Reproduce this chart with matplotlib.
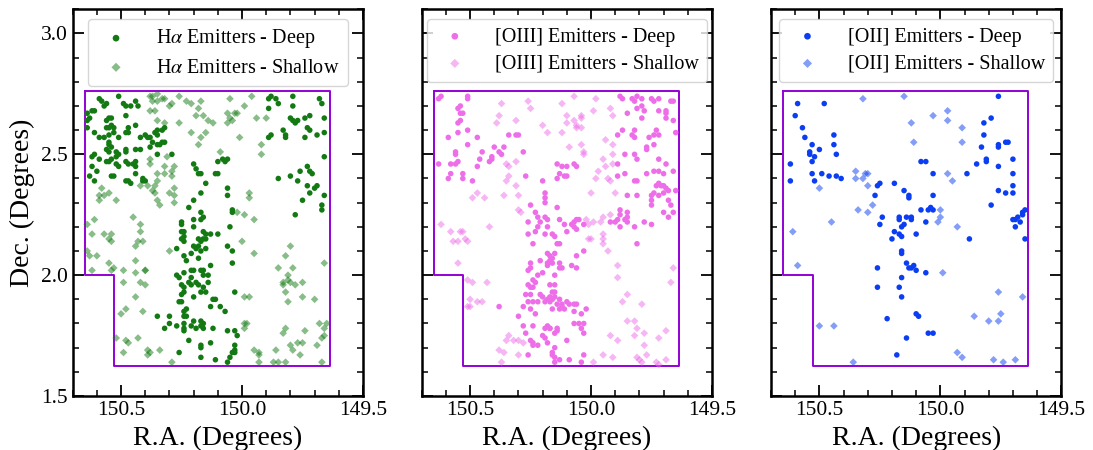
#!/usr/bin/env python3
"""
plot.py - sky positions of emitter samples (deep / shallow) in three panels
"""

import numpy as np
import matplotlib.pyplot as plt
from matplotlib.ticker import MultipleLocator

plt.rcParams["font.family"] = ["Liberation Serif", "DejaVu Serif"]
plt.rcParams["mathtext.fontset"] = "stix"

# survey footprint outline (RA, Dec)
region_ra = [150.65, 149.637, 149.637, 150.528, 150.528, 150.65, 150.65]
region_dec = [2.76, 2.76, 1.623, 1.623, 2.0, 2.0, 2.76]

# ---- H-alpha ----
ha_deep = [
    (150.59, 2.73), (150.58, 2.72), (150.56, 2.71), (150.57, 2.70), (150.51, 2.74),
    (150.49, 2.71), (150.48, 2.70), (150.46, 2.70), (150.44, 2.72), (150.43, 2.70),
    (150.64, 2.67), (150.63, 2.65), (150.64, 2.64), (150.62, 2.68), (150.61, 2.68),
    (150.55, 2.65), (150.54, 2.65), (150.56, 2.64), (150.56, 2.61), (150.55, 2.61),
    (150.54, 2.62), (150.53, 2.61), (150.53, 2.59), (150.64, 2.61), (150.61, 2.59),
    (150.59, 2.57), (150.57, 2.57), (150.55, 2.58), (150.51, 2.57), (150.48, 2.59),
    (150.47, 2.59), (150.47, 2.61), (150.48, 2.66), (150.44, 2.62), (150.42, 2.57),
    (150.40, 2.58), (150.39, 2.57), (150.38, 2.57), (150.36, 2.59), (150.35, 2.60),
    (150.33, 2.60), (150.32, 2.61), (150.35, 2.58), (150.55, 2.55), (150.55, 2.54),
    (150.56, 2.52), (150.55, 2.51), (150.54, 2.53), (150.52, 2.51), (150.51, 2.50),
    (150.48, 2.52), (150.48, 2.51), (150.44, 2.52), (150.42, 2.52), (150.38, 2.53),
    (150.37, 2.55), (150.35, 2.54), (150.34, 2.54), (150.32, 2.55), (150.33, 2.55),
    (150.35, 2.50), (150.29, 2.50), (150.62, 2.49), (150.61, 2.50), (150.59, 2.48),
    (150.56, 2.47), (150.55, 2.47), (150.54, 2.48), (150.52, 2.49), (150.52, 2.46),
    (150.51, 2.45), (150.48, 2.47), (150.47, 2.46), (150.45, 2.46), (150.44, 2.47),
    (150.44, 2.45), (150.62, 2.45), (150.60, 2.43), (150.63, 2.41), (150.61, 2.39),
    (150.54, 2.41), (150.53, 2.41), (150.48, 2.39), (150.47, 2.39), (150.46, 2.38),
    (150.44, 2.42), (150.41, 2.40), (150.41, 2.39), (150.40, 2.39),
    (150.20, 2.46), (150.19, 2.44), (150.18, 2.42), (150.17, 2.42), (150.15, 2.38),
    (150.17, 2.34), (150.20, 2.31), (150.22, 2.28), (150.25, 2.22), (150.25, 2.21),
    (150.25, 2.18), (150.24, 2.18), (150.20, 2.23), (150.20, 2.20), (150.17, 2.26),
    (150.16, 2.24), (150.17, 2.23), (150.16, 2.18), (150.15, 2.17), (150.10, 2.17),
    (150.10, 2.47), (150.08, 2.48), (150.06, 2.48), (150.07, 2.47), (150.11, 2.42),
    (150.10, 2.42), (150.06, 2.36), (150.06, 2.33), (150.04, 2.27), (150.05, 2.20),
    (150.04, 2.26),
    (149.89, 2.73), (149.88, 2.74), (149.86, 2.73), (149.89, 2.69), (149.85, 2.71),
    (149.79, 2.74), (149.79, 2.70), (149.68, 2.73), (149.67, 2.71), (149.80, 2.65),
    (149.79, 2.64), (149.78, 2.63), (149.77, 2.64), (149.74, 2.65), (149.72, 2.66),
    (149.66, 2.65), (149.89, 2.57), (149.88, 2.58), (149.83, 2.60), (149.82, 2.58),
    (149.82, 2.57), (149.74, 2.57), (149.73, 2.61), (149.72, 2.60), (149.69, 2.58),
    (149.66, 2.59), (149.66, 2.49), (149.85, 2.40), (149.80, 2.41), (149.76, 2.43),
    (149.73, 2.45), (149.72, 2.43), (149.71, 2.42), (149.70, 2.36), (149.69, 2.37),
    (149.73, 2.37), (149.77, 2.39), (149.72, 2.34), (149.75, 2.31), (149.66, 2.33),
    (149.67, 2.29), (149.67, 2.27), (149.78, 2.25),
    (150.24, 2.16), (150.24, 2.14), (150.25, 2.15), (150.13, 2.17), (150.16, 2.15),
    (150.15, 2.15), (150.18, 2.15), (150.17, 2.14), (150.20, 2.12), (150.19, 2.11),
    (150.18, 2.12), (150.17, 2.10), (150.21, 2.09), (150.15, 2.11), (150.27, 2.11),
    (150.24, 2.08), (150.23, 2.06), (150.18, 2.07), (150.13, 2.04), (150.06, 2.12),
    (150.04, 2.10), (150.04, 2.05), (150.27, 2.00), (150.26, 1.99), (150.24, 2.01),
    (150.21, 2.02), (150.20, 2.02), (150.21, 1.99), (150.22, 1.97), (150.25, 1.96),
    (150.24, 1.95), (150.21, 1.96), (150.19, 1.97), (150.18, 1.96), (150.17, 2.02),
    (150.16, 2.02), (150.16, 2.00), (150.14, 2.00), (150.14, 1.97), (150.16, 1.95),
    (150.15, 1.93), (150.17, 1.93), (150.24, 1.93), (150.25, 1.92), (150.26, 1.89),
    (150.25, 1.89), (150.20, 1.91), (150.03, 1.93), (150.12, 1.90), (150.11, 1.90),
    (150.13, 1.87), (150.09, 1.87), (150.07, 1.85), (150.24, 1.85), (150.24, 1.83),
    (150.23, 1.83), (150.23, 1.86), (150.35, 1.83), (150.30, 1.83), (150.30, 1.80),
    (150.32, 1.78), (150.27, 1.79), (150.24, 1.80), (150.24, 1.78), (150.24, 1.77),
    (150.21, 1.79), (150.19, 1.78), (150.20, 1.81), (150.17, 1.81), (150.16, 1.80),
    (150.17, 1.79), (150.16, 1.78), (150.12, 1.78), (150.06, 1.77), (150.03, 1.77),
    (150.02, 1.75), (150.22, 1.73), (150.17, 1.71), (150.17, 1.70), (150.13, 1.72),
    (150.17, 1.66), (150.26, 1.68), (150.11, 1.65), (150.06, 1.64), (150.03, 1.71),
    (150.03, 1.69), (150.04, 1.68), (150.03, 1.68), (150.05, 1.66),
]
ha_shallow = [
    (150.38, 2.74), (150.37, 2.74), (150.35, 2.75), (150.33, 2.73), (150.32, 2.73),
    (150.35, 2.72), (150.37, 2.72), (150.26, 2.74), (150.29, 2.71), (150.30, 2.70),
    (150.23, 2.72), (150.21, 2.71), (150.17, 2.72), (150.18, 2.69), (150.19, 2.66),
    (150.16, 2.66), (150.14, 2.64), (150.12, 2.63), (150.05, 2.73), (149.99, 2.70),
    (150.02, 2.67), (149.96, 2.74), (150.06, 2.67), (150.05, 2.65), (150.06, 2.63),
    (150.04, 2.64), (150.03, 2.67), (149.94, 2.65), (149.90, 2.65), (150.32, 2.63),
    (150.26, 2.63), (150.21, 2.59), (150.17, 2.57), (150.15, 2.59), (150.18, 2.54),
    (150.38, 2.68), (150.36, 2.68), (150.35, 2.64), (150.01, 2.57), (149.92, 2.54),
    (149.92, 2.50), (150.09, 2.51), (150.31, 2.49), (150.38, 2.48), (150.38, 2.46),
    (150.32, 2.45), (150.28, 2.45), (150.35, 2.42), (150.32, 2.42), (150.29, 2.43),
    (150.29, 2.41), (150.36, 2.37), (150.39, 2.37), (150.42, 2.37), (150.35, 2.39),
    (150.37, 2.35), (150.36, 2.34), (150.30, 2.34), (150.28, 2.36), (150.28, 2.33),
    (150.28, 2.30), (150.35, 2.31), (150.34, 2.29), (150.58, 2.36), (150.59, 2.33),
    (150.57, 2.33), (150.55, 2.34), (150.59, 2.31), (150.52, 2.31), (150.64, 2.21),
    (150.61, 2.23), (150.45, 2.24), (150.42, 2.21), (150.42, 2.18), (150.62, 2.17),
    (150.57, 2.17), (150.54, 2.17), (149.97, 2.34), (149.97, 2.32), (150.02, 2.26),
    (149.99, 2.25), (149.95, 2.23),
    (150.55, 2.15), (150.54, 2.14), (150.44, 2.12), (150.43, 2.14), (150.41, 2.14),
    (150.30, 2.10), (150.64, 2.10), (150.63, 2.08), (150.60, 2.08), (150.55, 2.05),
    (150.53, 2.03), (150.54, 2.02), (150.62, 2.02), (150.49, 2.02), (150.44, 2.06),
    (150.44, 2.01), (150.40, 2.02), (150.40, 2.02), (150.49, 1.97), (150.42, 1.97),
    (150.40, 1.96), (150.44, 1.91), (150.48, 1.86), (150.50, 1.84), (150.41, 1.85),
    (150.00, 2.14), (149.95, 2.09), (149.80, 2.12), (149.82, 2.08), (149.79, 2.03),
    (149.85, 2.03), (149.66, 2.05), (149.81, 2.00), (149.83, 1.97), (149.81, 1.98),
    (149.80, 1.97), (149.83, 1.96), (149.78, 1.96), (149.75, 1.97), (149.99, 1.91),
    (149.97, 1.91), (149.82, 1.93), (149.81, 1.89), (149.75, 1.91), (149.70, 1.90),
    (149.99, 1.80), (149.98, 1.80), (149.99, 1.78), (149.82, 1.78), (149.83, 1.76),
    (149.74, 1.77), (149.68, 1.80), (149.65, 1.80), (149.66, 1.78), (150.52, 1.74),
    (150.48, 1.73), (150.47, 1.72), (150.43, 1.74), (150.39, 1.69), (150.38, 1.68),
    (150.39, 1.67), (150.34, 1.69), (150.49, 1.68), (150.29, 1.64), (149.95, 1.69),
    (149.93, 1.68), (149.93, 1.67), (149.86, 1.69), (149.87, 1.64), (149.85, 1.64),
    (149.93, 1.64), (149.77, 1.72), (149.75, 1.72), (149.80, 1.71), (149.79, 1.69),
    (149.76, 1.67), (149.69, 1.71), (149.67, 1.74), (149.66, 1.75), (149.67, 1.64),
    (149.82, 1.64),
]

# ---- [OIII] ----
o3_deep = [
    (150.63, 2.73), (150.62, 2.74), (150.51, 2.74), (150.51, 2.73), (150.55, 2.69),
    (150.54, 2.70), (150.54, 2.67), (150.53, 2.67), (150.55, 2.63), (150.54, 2.64),
    (150.51, 2.60), (150.59, 2.57), (150.55, 2.59), (150.47, 2.57), (150.51, 2.54),
    (150.56, 2.51), (150.56, 2.50), (150.56, 2.46), (150.58, 2.46), (150.55, 2.47),
    (150.63, 2.46), (150.46, 2.48), (150.45, 2.51), (150.40, 2.53), (150.38, 2.51),
    (150.36, 2.53), (150.37, 2.50), (150.41, 2.49), (150.41, 2.48), (150.42, 2.47),
    (150.47, 2.45), (150.58, 2.42), (150.59, 2.40), (150.53, 2.42), (150.53, 2.40),
    (150.49, 2.39), (150.34, 2.58), (150.31, 2.58), (150.30, 2.58), (150.28, 2.51),
    (150.27, 2.41), (150.20, 2.39), (150.19, 2.34), (150.19, 2.32), (150.19, 2.30),
    (150.14, 2.46), (150.12, 2.45), (150.13, 2.42), (150.14, 2.40), (150.11, 2.41),
    (150.10, 2.41), (150.10, 2.45), (150.07, 2.46), (150.06, 2.45), (150.14, 2.28),
    (150.25, 2.29), (150.23, 2.26), (150.26, 2.22), (150.22, 2.24), (150.21, 2.22),
    (150.19, 2.24), (150.18, 2.23), (150.13, 2.23), (150.11, 2.21), (150.08, 2.21),
    (150.07, 2.22), (150.06, 2.23), (150.05, 2.23), (150.07, 2.20), (150.26, 2.17),
    (150.23, 2.18), (150.22, 2.20), (150.19, 2.17), (150.18, 2.20), (150.16, 2.17),
    (150.10, 2.18), (150.06, 2.19), (150.03, 2.21),
    (149.88, 2.74), (149.87, 2.73), (149.83, 2.73), (149.82, 2.72), (149.81, 2.74),
    (149.79, 2.73), (149.75, 2.73), (149.74, 2.72), (149.72, 2.73), (149.67, 2.72),
    (149.66, 2.72), (149.85, 2.67), (149.79, 2.70), (149.81, 2.69), (149.78, 2.68),
    (149.72, 2.68), (149.69, 2.68), (149.69, 2.67), (149.69, 2.65), (149.66, 2.64),
    (149.79, 2.65), (149.87, 2.60), (149.89, 2.58), (149.83, 2.58), (149.82, 2.57),
    (149.82, 2.60), (149.76, 2.57), (149.74, 2.58), (149.73, 2.60), (149.72, 2.58),
    (149.65, 2.59), (149.77, 2.53), (149.77, 2.52), (149.74, 2.54), (149.86, 2.50),
    (149.82, 2.50), (149.81, 2.48), (149.89, 2.46), (149.72, 2.48), (149.69, 2.46),
    (149.89, 2.41), (149.86, 2.42), (149.82, 2.39), (149.81, 2.39), (149.77, 2.42),
    (149.74, 2.43), (149.72, 2.43), (149.70, 2.42), (149.66, 2.43), (149.72, 2.38),
    (149.73, 2.37), (149.71, 2.37), (149.70, 2.37), (149.69, 2.36), (149.68, 2.35),
    (149.65, 2.35), (149.70, 2.34), (149.85, 2.33), (149.81, 2.33), (149.75, 2.33),
    (149.74, 2.34), (149.72, 2.33), (149.75, 2.31), (149.75, 2.29), (149.68, 2.31),
    (149.67, 2.29), (149.70, 2.26), (149.66, 2.26), (149.68, 2.24), (149.88, 2.27),
    (149.88, 2.25), (149.85, 2.26), (149.85, 2.24), (149.86, 2.23), (149.89, 2.23),
    (149.88, 2.20), (149.85, 2.22), (149.78, 2.22), (149.75, 2.21), (149.82, 2.20),
    (149.92, 2.22), (149.90, 2.22),
    (150.15, 2.16), (150.24, 2.13), (150.14, 2.13), (150.13, 2.13), (149.81, 2.13),
    (150.03, 2.10), (150.06, 2.08), (150.18, 2.09), (150.17, 2.08), (150.15, 2.09),
    (150.16, 2.07), (150.25, 2.05), (150.21, 2.06), (150.18, 2.05), (150.18, 2.04),
    (150.17, 2.06), (150.16, 2.05), (150.13, 2.05), (150.08, 2.04), (150.06, 2.03),
    (150.13, 2.03), (150.12, 2.03), (150.26, 2.02), (150.25, 2.03), (150.20, 2.01),
    (150.22, 2.00), (150.15, 2.00), (150.24, 1.98), (150.23, 1.97), (150.26, 1.96),
    (150.25, 1.95), (150.24, 1.95), (150.17, 1.96), (150.15, 1.96), (150.16, 1.93),
    (150.15, 1.93), (150.27, 1.92), (150.25, 1.92), (150.26, 1.89), (150.24, 1.89),
    (150.22, 1.89), (150.21, 1.92), (150.20, 1.91), (150.19, 1.89), (150.18, 1.90),
    (150.17, 1.91), (150.17, 1.89), (150.16, 1.90), (150.15, 1.91), (150.13, 1.90),
    (150.14, 1.88), (150.12, 1.88), (150.12, 1.87), (150.11, 1.86), (150.10, 1.89),
    (150.09, 1.88), (150.07, 1.88), (150.06, 1.88), (150.16, 1.86), (150.13, 1.86),
    (150.07, 1.85), (150.04, 1.84), (150.02, 1.86), (150.28, 1.87), (150.25, 1.86),
    (150.38, 1.87), (150.30, 1.83), (150.23, 1.84), (150.28, 1.79), (150.27, 1.76),
    (150.24, 1.79), (150.18, 1.79), (150.19, 1.78), (150.17, 1.78), (150.17, 1.78),
    (150.14, 1.78), (150.14, 1.77), (150.15, 1.76), (150.07, 1.80), (150.05, 1.80),
    (150.04, 1.78), (150.03, 1.80), (150.03, 1.76), (150.20, 1.75), (150.19, 1.74),
    (150.18, 1.72), (150.15, 1.70), (150.25, 1.73), (150.24, 1.72), (150.24, 1.71),
    (150.22, 1.71), (150.10, 1.73), (150.26, 1.67), (150.16, 1.68), (150.16, 1.67),
    (150.15, 1.66), (150.15, 1.64), (150.13, 1.65), (150.09, 1.65), (150.03, 1.67),
    (150.04, 1.64),
]
o3_shallow = [
    (150.37, 2.71), (150.26, 2.72), (150.25, 2.69), (150.38, 2.66), (150.39, 2.63),
    (150.31, 2.64), (150.12, 2.71), (150.07, 2.74), (149.98, 2.73), (149.99, 2.68),
    (149.92, 2.69), (149.91, 2.66), (150.10, 2.66), (150.10, 2.63), (150.07, 2.64),
    (150.06, 2.62), (150.04, 2.65), (150.04, 2.66), (150.06, 2.61), (150.04, 2.61),
    (150.20, 2.62), (150.18, 2.59), (150.12, 2.59), (149.94, 2.56), (149.91, 2.54),
    (150.04, 2.54), (150.09, 2.53), (150.03, 2.51), (150.03, 2.50), (149.95, 2.48),
    (149.94, 2.45), (149.91, 2.50), (149.91, 2.46), (149.97, 2.43), (149.98, 2.40),
    (149.93, 2.40), (149.92, 2.39), (149.90, 2.34), (150.00, 2.34), (150.35, 2.46),
    (150.34, 2.45), (150.31, 2.47), (150.34, 2.41), (150.35, 2.39), (150.31, 2.37),
    (150.47, 2.34), (150.49, 2.32), (150.44, 2.32), (150.36, 2.33), (150.30, 2.33),
    (150.30, 2.27), (150.29, 2.26), (150.02, 2.23), (149.99, 2.22), (149.96, 2.22),
    (149.95, 2.24), (149.92, 2.25), (150.01, 2.21), (150.42, 2.20), (150.62, 2.21),
    (150.58, 2.18), (150.54, 2.18), (150.53, 2.18),
    (150.57, 2.14), (150.55, 2.14), (150.52, 2.15), (150.51, 2.14), (150.55, 2.05),
    (150.51, 1.98), (150.49, 1.97), (150.43, 1.97), (150.50, 1.90), (150.47, 1.89),
    (150.45, 1.89), (150.51, 1.87), (150.50, 1.87), (150.01, 2.15), (150.00, 2.15),
    (149.95, 2.17), (149.95, 2.15), (149.95, 2.13), (149.93, 2.10), (149.89, 2.04),
    (149.89, 1.99), (149.85, 1.92), (149.87, 1.89), (149.79, 1.88), (149.66, 2.03),
    (149.67, 1.97), (149.85, 1.81), (149.82, 1.81), (149.81, 1.78), (149.78, 1.76),
    (149.69, 1.77), (149.72, 1.74), (149.92, 1.75), (149.89, 1.73), (149.82, 1.75),
    (149.78, 1.71), (150.34, 1.75), (150.35, 1.73), (150.32, 1.73), (150.30, 1.73),
    (150.28, 1.72), (150.38, 1.69), (150.36, 1.68), (150.37, 1.64), (150.30, 1.67),
    (149.95, 1.67), (149.91, 1.66), (149.81, 1.66), (149.80, 1.65), (149.79, 1.64),
    (149.77, 1.67), (149.73, 1.64), (149.72, 1.63), (149.69, 1.65), (149.99, 1.64),
]

# ---- [OII] ----
o2_deep = [
    (150.59, 2.71), (150.48, 2.71), (150.60, 2.66), (150.57, 2.61), (150.56, 2.57),
    (150.44, 2.58), (150.44, 2.54), (150.53, 2.54), (150.50, 2.52), (150.54, 2.51),
    (150.54, 2.50), (150.52, 2.49), (150.53, 2.47), (150.43, 2.50), (150.62, 2.46),
    (150.62, 2.39), (150.53, 2.42), (150.52, 2.39), (150.49, 2.42), (150.46, 2.41),
    (150.43, 2.41), (150.41, 2.40), (149.76, 2.74), (149.79, 2.65), (149.82, 2.63),
    (149.82, 2.58), (149.83, 2.53), (149.76, 2.54), (149.76, 2.53), (149.73, 2.55),
    (149.72, 2.55), (149.81, 2.48), (149.81, 2.47), (149.85, 2.46), (149.89, 2.42),
    (149.76, 2.45), (149.70, 2.48), (149.70, 2.42), (149.70, 2.37), (149.70, 2.34),
    (149.76, 2.35), (149.73, 2.34), (149.79, 2.29), (150.08, 2.47), (150.06, 2.47),
    (150.03, 2.42), (150.19, 2.38), (150.26, 2.37), (150.25, 2.38), (150.27, 2.33),
    (150.15, 2.35), (150.13, 2.33), (150.13, 2.32), (150.03, 2.33), (150.08, 2.27),
    (150.05, 2.27), (150.04, 2.28), (150.03, 2.27), (150.24, 2.24), (150.25, 2.21),
    (150.17, 2.24), (150.17, 2.23), (150.14, 2.24), (150.12, 2.23), (150.12, 2.24),
    (150.15, 2.21), (150.16, 2.20), (150.19, 2.18), (150.17, 2.17), (150.06, 2.22),
    (149.70, 2.23), (149.69, 2.23), (149.68, 2.24), (149.67, 2.22), (149.69, 2.20),
    (149.66, 2.26), (149.65, 2.27), (149.66, 2.25),
    (150.20, 2.15), (150.16, 2.16), (150.10, 2.17), (149.88, 2.15), (149.65, 2.15),
    (150.16, 2.10), (150.16, 2.09), (150.14, 2.05), (150.13, 2.03), (150.12, 2.03),
    (150.11, 2.04), (150.10, 2.02), (150.06, 2.01), (150.26, 2.03), (150.16, 1.99),
    (150.26, 1.95), (150.17, 1.95), (150.16, 1.91), (150.10, 1.84), (150.09, 1.83),
    (150.22, 1.82), (150.05, 1.76), (150.03, 1.76), (150.14, 1.74), (150.18, 1.67),
]
o2_shallow = [
    (150.32, 2.73), (150.15, 2.74), (149.97, 2.68), (150.03, 2.66), (149.97, 2.64),
    (150.12, 2.63), (149.91, 2.61), (149.91, 2.55), (150.11, 2.55), (150.35, 2.43),
    (150.31, 2.42), (150.30, 2.42), (150.35, 2.40), (150.32, 2.40), (150.30, 2.37),
    (149.97, 2.42), (149.95, 2.39), (150.50, 2.36), (150.28, 2.29), (150.34, 2.27),
    (150.30, 2.26), (150.45, 2.22), (150.00, 2.27), (150.00, 2.24), (150.01, 2.22),
    (149.93, 2.20), (150.61, 2.18),
    (150.59, 2.04), (149.99, 2.01), (149.76, 1.93), (149.66, 1.91), (149.86, 1.83),
    (149.80, 1.81), (149.76, 1.81), (149.75, 1.84), (150.50, 1.79), (150.44, 1.79),
    (149.93, 1.68), (149.91, 1.66), (149.78, 1.65), (149.74, 1.64), (149.69, 1.65),
    (150.36, 1.64),
]

panels = [
    (ha_deep, ha_shallow, "#137a13", r"H$\alpha$ Emitters"),
    (o3_deep, o3_shallow, "#ee6ee9", "[OIII] Emitters"),
    (o2_deep, o2_shallow, "#0b3ef2", "[OII] Emitters"),
]

fig = plt.figure(figsize=(10.93, 4.5), dpi=100)
lefts = [0.0665, 0.3858, 0.7054]
for i, (deep, shallow, color, name) in enumerate(panels):
    ax = fig.add_axes([lefts[i], 0.12, 0.2656, 0.8593])

    d = np.array(deep)
    s = np.array(shallow)
    ax.plot(region_ra, region_dec, color="darkviolet", lw=1.4, zorder=1)
    ax.scatter(d[:, 0], d[:, 1], s=16, marker="o", color=color,
               edgecolors="none", label=name + " - Deep", zorder=3)
    ax.scatter(s[:, 0], s[:, 1], s=15, marker="D", color=color, alpha=0.5,
               edgecolors="none", label=name + " - Shallow", zorder=2)

    ax.set_xlim(150.7, 149.5)
    ax.set_ylim(1.5, 3.1)
    ax.xaxis.set_major_locator(MultipleLocator(0.5))
    ax.xaxis.set_minor_locator(MultipleLocator(0.1))
    ax.yaxis.set_major_locator(MultipleLocator(0.5))
    ax.yaxis.set_minor_locator(MultipleLocator(0.1))
    ax.tick_params(which="both", direction="in", top=True, right=True,
                   labelsize=15.5)
    ax.tick_params(which="major", length=8, width=1.3)
    ax.tick_params(which="minor", length=4.5, width=1.1)
    for sp in ax.spines.values():
        sp.set_linewidth(1.8)

    ax.set_xlabel("R.A. (Degrees)", fontsize=20)
    if i == 0:
        ax.set_ylabel("Dec. (Degrees)", fontsize=20)
    else:
        ax.tick_params(labelleft=False)

    ax.legend(loc="upper center", fontsize=14.5, handletextpad=1.0,
              borderpad=0.4, labelspacing=0.4, markerscale=1.2)

fig.savefig("out.png", dpi=100)
